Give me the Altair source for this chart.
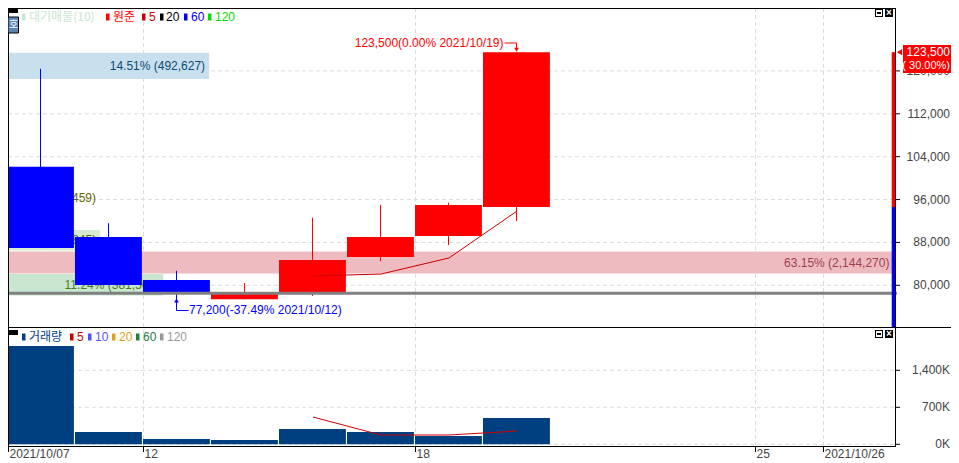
import altair as alt
import pandas as pd

# ---- data
idx = [0, 1, 2, 3, 4, 5, 6, 7]
open_ = [102100, 89000, 81000, 77400, 78750, 85300, 89200, 94600]
close = [86950, 80050, 78750, 78500, 84700, 89000, 95000, 123500]
high = [120400, 91600, 82700, 80400, 92600, 95000, 95400, 123500]
low = [86950, 80050, 77200, 77400, 78000, 84500, 87500, 92000]
volume = [1860000, 232000, 100000, 81000, 289000, 232000, 157000, 497000]
ma_idx = [4, 5, 6, 7]
price_ma5 = [81750, 82100, 85100, 93850]
vol_ma5 = [516000, 176000, 176000, 251000]

band_top = [123400, 98200, 90300, 86300, 82100]
band_bot = [118500, 94400, 86500, 82200, 78100]
band_pct = [14.51, 4.34, 6.77, 63.15, 11.24]
band_txt = ["14.51% (492,627)", "4.34% (147,459)", "6.77% (229,845)", "63.15% (2,144,270)", "11.24% (381,560)"]
band_fill = ["#c8e0ed", "#fff6c8", "#d6ebd2", "#eebbc1", "#c9e6d0"]
band_ink = ["#0b4a78", "#666600", "#666600", "#a0404f", "#4f7a1e"]

price_ticks = [80000, 88000, 96000, 104000, 112000, 120000]
price_labels = ["80,000", "88,000", "96,000", "104,000", "112,000", "120,000"]
vol_ticks = [0, 700000, 1400000]
vol_labels = ["0K", "700K", "1,400K"]
date_ticks = [2, 6, 11, 12]
date_names = ["12", "18", "25", "2021/10/26"]
first_date = "2021/10/07"

last_price = 123500
base_line = 78500
split_price = 94600

# ---- scales (one index step is one trading day)
XMIN, XMAX = 1 / 68, 888 / 68
BODY = 66.9 / 68
PX = 1 / 68
PMIN, PMAX = 72220, 131740
VMIN, VMAX = -32000, 2219000
TOTAL_W, TOTAL_H = 943, 452
W, H1, H2B = 887, 319, 438
FONT = "Liberation Sans"
KFONT = "Noto Sans CJK KR"
INK = "#444444"
xs = alt.Scale(domain=[XMIN, XMAX], range=[0, W], nice=False, zero=False)
ys = alt.Scale(domain=[PMIN, PMAX], range=[H1, 0], nice=False, zero=False)
vs = alt.Scale(domain=[VMIN, VMAX], range=[H2B, H1], nice=False, zero=False)
X = lambda f="x": alt.X(f"{f}:Q", scale=xs, axis=None)
Y = lambda f="y": alt.Y(f"{f}:Q", scale=ys, axis=None)
V = lambda f="y": alt.Y(f"{f}:Q", scale=vs, axis=None)
NC = lambda f="col": alt.Color(f"{f}:N", scale=None)

kline = pd.DataFrame(dict(i=idx, o=open_, c=close, h=high, l=low, v=volume))
kline["x0"] = kline.i.clip(lower=XMIN)
kline["x1"] = kline.i + BODY
kline["mid"] = kline.i + 0.5 - 0.5 * PX
kline["col"] = ["#0000ff" if a > b else "#ff0000" for a, b in zip(open_, close)]
kline["zero"] = 0
ma = pd.DataFrame(dict(x=[i + 0.5 for i in ma_idx], y=price_ma5, v=vol_ma5))

bands = pd.DataFrame(dict(top=band_top, bot=band_bot, pct=band_pct, txt=band_txt, fill=band_fill, ink=band_ink))
bands["x0"] = XMIN
bands["x1"] = bands.pct / 4.833 - 0.03
bands["ym"] = (bands.top + bands.bot) / 2

GRID = dict(color="#dcdcdc", strokeDash=[4, 3], strokeWidth=1)


def grid_layers(field, ticks, lo, hi):
    xg = alt.Chart(pd.DataFrame(dict(x=[d + 0.5 * PX for d in date_ticks], a=lo, b=hi))).mark_rule(**GRID).encode(x=X("x"), y=field("a"), y2="b:Q")
    yg = alt.Chart(pd.DataFrame(dict(y=ticks, a=XMIN, b=XMAX))).mark_rule(**GRID).encode(y=field("y"), x=X("a"), x2="b:Q")
    return [xg, yg]


def right_axis(field, ticks, labels):
    t = pd.DataFrame(dict(y=ticks, a=XMAX, b=XMAX + 5 * PX, lx=XMAX + 55 * PX, s=labels))
    tk = alt.Chart(t).mark_rule(color="#000000", size=1).encode(y=field("y"), x=X("a"), x2="b:Q")
    tx = alt.Chart(t).mark_text(font=FONT, fontSize=12, align="right", baseline="middle", color=INK).encode(y=field("y"), x=X("lx"), text="s:N")
    return [tk, tx]


def label(txt, px, py, color, font=FONT, size=12, align="left", weight="normal"):
    return alt.Chart(pd.DataFrame(dict(t=[txt]))).mark_text(
        font=font, fontSize=size, align=align, baseline="middle", color=color, fontWeight=weight
    ).encode(text="t:N", x=alt.value(px - 8), y=alt.value(py - 8))


def box(x0, x1, y0, y1, color, **kw):
    return alt.Chart(pd.DataFrame(dict(a=[0]))).mark_rect(color=color, **kw).encode(
        x=alt.value(x0 - 8), x2=alt.value(x1 - 8), y=alt.value(y0 - 8), y2=alt.value(y1 - 8)
    )


def icons(top):
    return [
        box(875, 883, top, top + 8, "#000000"),
        box(876, 882, top + 1, top + 7, "#ffffff"),
        box(877, 881, top + 3, top + 5, "#000000"),
        box(885, 893, top, top + 8, "#000000"),
        label("×", 889, top + 4, "#ffffff", size=10, align="center", weight="bold"),
    ]


def legend(mid, black_top, items):
    out = [box(8, 18, black_top, black_top + 5, "#000000")]
    for txt, sw, tx, col, font, size in items:
        out.append(box(sw, sw + 3.5, mid - 3.5, mid + 3.5, col))
        out.append(label(txt, tx, mid, col, font=font, size=size))
    return out


# ---- upper panel
wick = alt.Chart(kline).mark_rule(size=1).encode(x=X("mid"), y=Y("h"), y2="l:Q", color=NC())
body = alt.Chart(kline).mark_rect().encode(x=X("x0"), x2="x1:Q", y=Y("o"), y2="c:Q", color=NC())
band_rect = alt.Chart(bands).mark_rect().encode(x=X("x0"), x2="x1:Q", y=Y("top"), y2="bot:Q", color=NC("fill"))
band_t = alt.Chart(bands[bands.pct != 4.34]).mark_text(font=FONT, fontSize=12, align="right", baseline="middle", dx=-4).encode(
    x=X("x1"), y=Y("ym"), text="txt:N", color=NC("ink"))
band_t2 = alt.Chart(bands[bands.pct == 4.34]).mark_text(font=FONT, fontSize=12, align="right", baseline="middle", dx=30).encode(
    x=X("x1"), y=Y("ym"), text="txt:N", color=NC("ink"))
ma_line = alt.Chart(ma).mark_line(color="#cc0000", strokeWidth=1).encode(x=X("x"), y=Y("y"))
base = alt.Chart(pd.DataFrame(dict(y=[base_line], a=[XMIN], b=[XMAX + 2 * PX]))).mark_rule(color="#808080", size=3).encode(
    y=Y("y"), x=X("a"), x2="b:Q")

side = pd.DataFrame(dict(a=[XMAX - 3.3 * PX] * 2, b=[XMAX] * 2, t=[last_price, split_price], u=[split_price, PMIN], col=["#ff0000", "#0000ff"]))
side_bar = alt.Chart(side).mark_rect().encode(x=X("a"), x2="b:Q", y=Y("t"), y2="u:Q", color=NC())

# annotation of the highest and the lowest price
hi_i, lo_i = 7.5 - 0.5 * PX, 2.5 - 0.5 * PX
conn = pd.DataFrame(dict(
    x=[hi_i - 12 * PX, hi_i, lo_i, lo_i + 12 * PX],
    x2=[hi_i, hi_i, lo_i, lo_i],
    y=[125210, 125210, 77200, 75300], y2=[125210, 123900, 75300, 75300],
    col=["#ff0000", "#ff0000", "#0000ff", "#0000ff"]))
conn_m = alt.Chart(conn).mark_rule(size=1).encode(x=X("x"), x2="x2:Q", y=Y("y"), y2="y2:Q", color=NC())
arrows = pd.DataFrame(dict(x=[hi_i, lo_i], y=[123950, 77150], col=["#ff0000", "#0000ff"], shape=["triangle-down", "triangle-up"]))
arrow_m = alt.Chart(arrows).mark_point(filled=True, size=22, opacity=1).encode(
    x=X("x"), y=Y("y"), color=NC(), shape=alt.Shape("shape:N", scale=None))
note = pd.DataFrame(dict(x=[hi_i - 13 * PX, lo_i + 12.5 * PX], y=[125210, 75300],
                         t=["123,500(0.00% 2021/10/19)", "77,200(-37.49% 2021/10/12)"],
                         col=["#ff0000", "#0000ff"]))
note_hi = alt.Chart(note.iloc[[0]]).mark_text(font=FONT, fontSize=12, align="right", baseline="middle").encode(
    x=X("x"), y=Y("y"), text="t:N", color=NC())
note_lo = alt.Chart(note.iloc[[1]]).mark_text(font=FONT, fontSize=12, align="left", baseline="middle").encode(
    x=X("x"), y=Y("y"), text="t:N", color=NC())

# price tag on the right
tag_arrow = alt.Chart(pd.DataFrame(dict(y=[last_price], x=[XMAX + 4.5 * PX]))).mark_point(
    shape="triangle-left", filled=True, size=38, color="#ff0000", opacity=1).encode(x=X("x"), y=Y("y"))
tag = [
    box(903, 951, 45, 73, "#ff0000"),
    label("123,500", 950, 52, "#ffffff", align="right"),
    label("( 30.00%)", 950, 66, "#ffffff", size=11, align="right"),
]

top_items = [
    ("대기매물(10)", 22, 29, "#c9e6d0", KFONT, 12),
    ("원준", 106, 113, "#ff0000", KFONT, 12),
    ("5", 142, 149, "#cc0000", FONT, 12),
    ("20", 160, 166, "#000000", FONT, 12),
    ("60", 184, 191, "#0000ff", FONT, 12),
    ("120", 208, 215, "#00dd00", FONT, 12),
]
hoj = [
    box(8, 18.5, 17, 33, "#5b84b8", stroke="#000000", strokeWidth=1),
    label("호", 13.5, 25, "#ffffff", font=KFONT, size=10, align="center"),
]

upper = alt.layer(
    *grid_layers(Y, price_ticks, PMIN, PMAX), *right_axis(Y, price_ticks, price_labels), band_rect, band_t, band_t2, wick, body,
    ma_line, base, side_bar, conn_m, arrow_m, note_hi, note_lo, tag_arrow
)

# ---- lower panel
vol_bar = alt.Chart(kline).mark_rect(color="#004080").encode(x=X("x0"), x2="x1:Q", y=V("v"), y2="zero:Q")
vol_ma = alt.Chart(ma).mark_line(color="#cc0000", strokeWidth=1).encode(x=X("x"), y=V("v"))
dates = pd.DataFrame(dict(x=[XMIN + 0.5 * PX] + [d + 0.5 * PX for d in date_ticks], s=[first_date] + date_names, a=VMIN, b=-145000, ly=-190000))
date_tick = alt.Chart(dates).mark_rule(color="#000000", size=1).encode(x=X("x"), y=V("a"), y2="b:Q")
date_txt = alt.Chart(dates).mark_text(font=FONT, fontSize=12, align="left", baseline="middle", color=INK, dx=1).encode(x=X("x"), y=V("ly"), text="s:N")
low_items = [
    ("거래량", 22, 29, "#004080", KFONT, 12),
    ("5", 70, 77, "#cc0000", FONT, 12),
    ("10", 88, 95, "#5050ff", FONT, 12),
    ("20", 112, 119, "#e0a020", FONT, 12),
    ("60", 136, 143, "#208040", FONT, 12),
    ("120", 160, 167, "#999999", FONT, 12),
]
lower = alt.layer(*grid_layers(V, vol_ticks, VMIN, VMAX), *right_axis(V, vol_ticks, vol_labels), vol_bar, vol_ma, date_tick, date_txt)


# ---- frame and overlays (page furniture)
def hline(py, x0, x1):
    return box(x0, x1, py, py + 1, "#000000")


frame = [hline(8, 8, 896), box(8, 9, 8, 447, "#000000"), box(895, 896, 8, 447, "#000000"), hline(327, 8, 951), hline(446, 8, 896)]

overlay = alt.layer(*frame, *tag, *legend(17, 8, top_items), *hoj, *icons(9), *legend(337, 330, low_items), *icons(330))

chart = alt.layer(
    lower, upper, overlay
).resolve_scale(y="independent").properties(
    width=TOTAL_W, height=TOTAL_H, padding=0,
    autosize=alt.AutoSizeParams(type="none", contains="padding"), background="#ffffff",
).configure_view(stroke=None)

chart.save("out.html", embed_options={"renderer": "svg", "actions": False})
